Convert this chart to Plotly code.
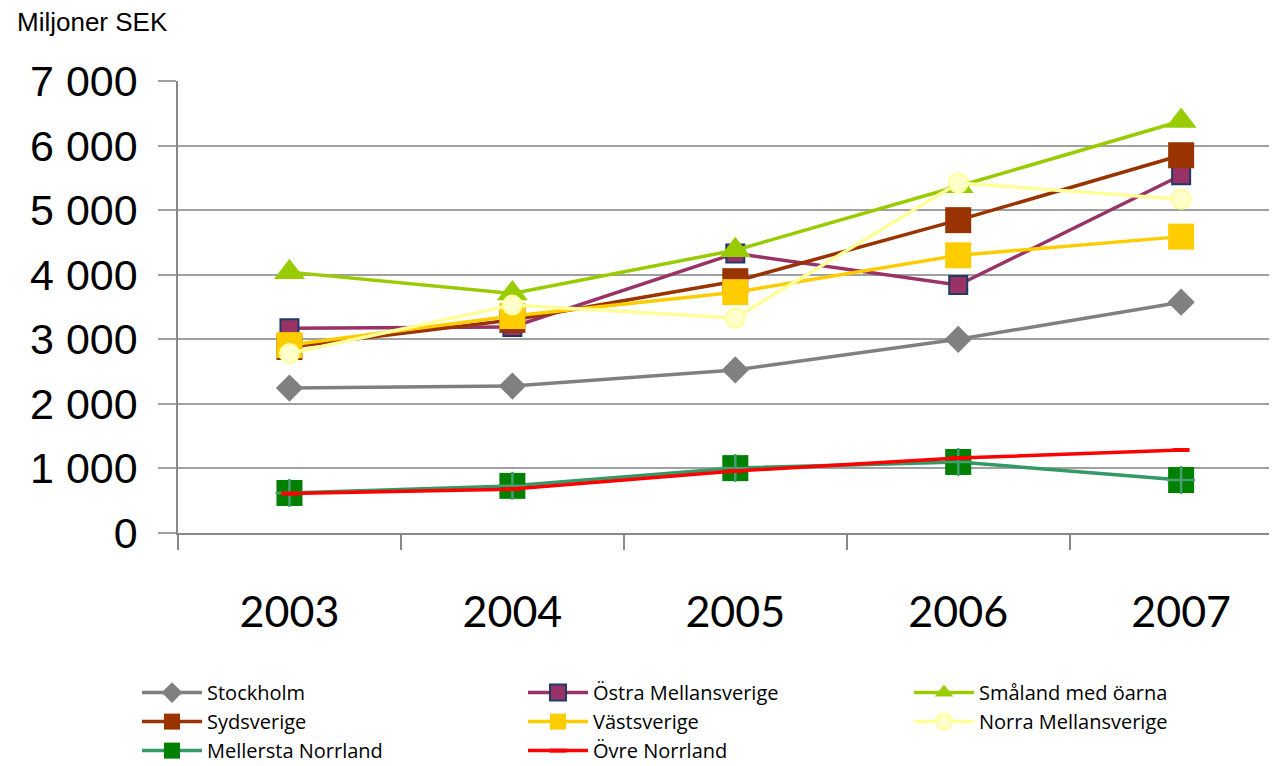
import plotly.graph_objects as go

years = ["2003", "2004", "2005", "2006", "2007"]

stockholm = [2245, 2275, 2525, 3000, 3575]
ostra_mellansverige = [3170, 3190, 4330, 3840, 5540]
smaland = [4040, 3710, 4380, 5370, 6380]
sydsverige = [2880, 3300, 3900, 4845, 5850]
vastsverige = [2910, 3360, 3730, 4300, 4590]
norra_mellansverige = [2780, 3530, 3330, 5420, 5170]
mellersta_norrland = [620, 730, 1005, 1100, 820]
ovre_norrland = [610, 680, 960, 1160, 1285]

y_ticks = [0, 1000, 2000, 3000, 4000, 5000, 6000, 7000]
y_tick_text = ["0", "1 000", "2 000", "3 000", "4 000", "5 000", "6 000", "7 000"]

series = [
    ("Stockholm", stockholm, "#808080", dict(symbol="diamond", size=21, color="#808080")),
    ("Östra Mellansverige", ostra_mellansverige, "#993366",
     dict(symbol="square", size=18, color="#993366", line=dict(color="#1F3A66", width=2))),
    ("Småland med öarna", smaland, "#99CC00", dict(symbol="triangle-up", size=27, color="#99CC00")),
    ("Sydsverige", sydsverige, "#993300", dict(symbol="square", size=26, color="#993300")),
    ("Västsverige", vastsverige, "#FFCC00", dict(symbol="square", size=26, color="#FFCC00")),
    ("Norra Mellansverige", norra_mellansverige, "#FFFF99",
     dict(symbol="circle", size=19, color="#FFFFCC", line=dict(color="#FFFF99", width=2))),
    ("Mellersta Norrland", mellersta_norrland, "#339966", dict(symbol="square", size=26, color="#008000")),
    ("Övre Norrland", ovre_norrland, "#FF0000",
     dict(symbol="line-ew", size=12, color="#FF0000", line=dict(color="#FF0000", width=4))),
]

fig = go.Figure()
for name, vals, col, mk in series:
    fig.add_trace(go.Scatter(
        x=years, y=vals, name=name, mode="lines+markers",
        line=dict(color=col, width=3.5), marker=mk,
    ))
    if name == "Mellersta Norrland":
        fig.add_trace(go.Scatter(
            x=years, y=vals, mode="markers", showlegend=False, hoverinfo="skip",
            marker=dict(symbol="cross-thin", size=20, color="#45A070",
                        line=dict(color="#45A070", width=2.5)),
        ))

fig.update_layout(
    width=1269, height=758,
    margin=dict(l=170, r=0, t=73, b=233, autoexpand=False),
    plot_bgcolor="white", paper_bgcolor="white",
    showlegend=True,
    legend=dict(
        orientation="h", x=-0.0373, xanchor="left", y=-0.310, yanchor="top",
        entrywidth=311, itemwidth=60, tracegroupgap=0,
        font=dict(family="Open Sans", size=20, color="black"),
    ),
    annotations=[dict(
        text="Miljoner SEK", xref="paper", yref="paper", x=-0.1483, y=1.1305,
        xanchor="left", yanchor="middle", showarrow=False,
        font=dict(family="Liberation Sans", size=26, color="black"),
    )],
)

fig.update_xaxes(
    type="category", range=[-0.5, 4.43], automargin=False,
    showgrid=False, showline=True, linecolor="#888888", linewidth=1.5,
    ticks="outside", tickson="boundaries", ticklen=15, tickcolor="#888888", tickwidth=1.5,
    tickfont=dict(family="Lato", size=43, color="black"),
    ticklabelstandoff=41,
)
fig.update_yaxes(
    range=[0, 7000], tickvals=y_ticks, ticktext=y_tick_text, automargin=False,
    showgrid=True, gridcolor="#A0A0A0", gridwidth=1.5,
    showline=True, linecolor="#888888", linewidth=1.5,
    ticks="outside", ticklen=18, tickcolor="#A0A0A0", tickwidth=1.5,
    tickfont=dict(family="Liberation Sans", size=43, color="black"),
    ticklabelstandoff=12, zeroline=False,
)

fig.write_html("out.html")
